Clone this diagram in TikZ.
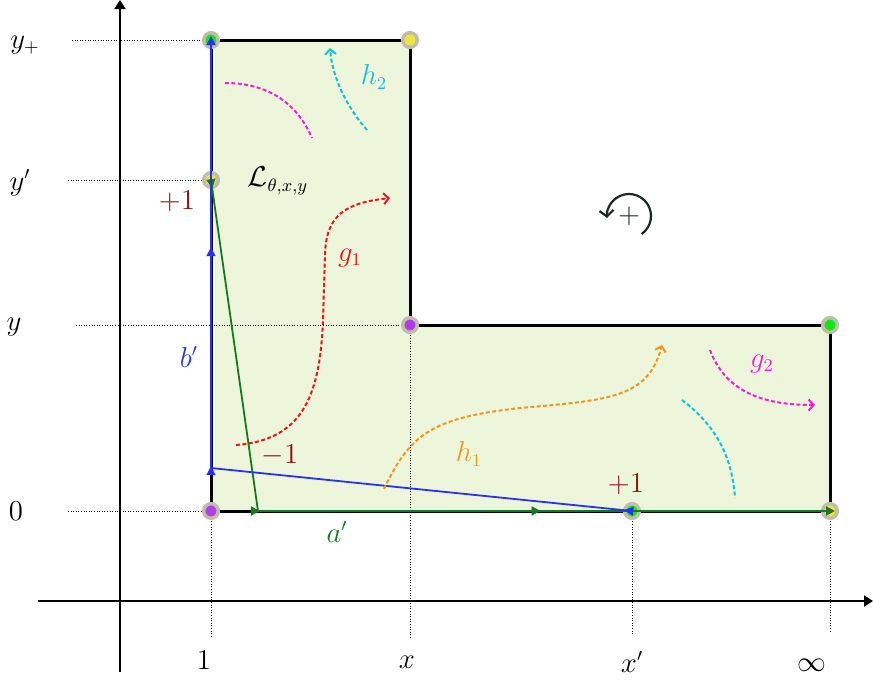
\documentclass[tikz,border=0pt]{standalone}
\usetikzlibrary{arrows.meta,decorations.markings}
\definecolor{regfill}{RGB}{237,246,218}
\definecolor{ptgreen}{RGB}{20,230,20}
\definecolor{ptyellow}{RGB}{240,228,60}
\definecolor{ptpurple}{RGB}{178,60,235}
\definecolor{ringc}{RGB}{190,190,170}
\definecolor{bluel}{RGB}{40,50,240}
\definecolor{greenl}{RGB}{20,120,40}
\definecolor{darkred}{RGB}{140,20,20}
\definecolor{cred}{RGB}{240,20,20}
\definecolor{corange}{RGB}{240,150,30}
\definecolor{ccyan}{RGB}{20,190,220}
\definecolor{cmag}{RGB}{240,30,220}
\definecolor{arcc}{RGB}{25,40,40}
\tikzset{
  pt/.style={circle,inner sep=0pt,minimum size=7.3pt,draw=ringc,line width=1.75pt},
  guide/.style={line width=0.5pt,dash pattern=on 0.5pt off 0.8pt},
  axis/.style={line width=1pt,-{Triangle[length=4.5pt,width=5.5pt]}},
  border/.style={line width=1.5pt},
  flow/.style={line width=1pt,dash pattern=on 2pt off 1.2pt,-{Straight Barb[length=2.5pt,width=5.5pt]}},
  flowplain/.style={line width=1pt,dash pattern=on 2pt off 1.2pt},
  tri/.tip={Triangle[length=4.5pt,width=4.5pt]},
  lbl/.style={inner sep=0pt,font=\fontsize{13.5}{16}\selectfont}
}
\begin{document}
\begin{tikzpicture}[x=0.5pt,y=-0.5pt]
\useasboundingbox (0,0) rectangle (873,681);
% coordinates
\coordinate (O) at (211,511);
\coordinate (Xinf) at (830,511);
\coordinate (Yinf) at (830,325);
\coordinate (XY) at (410,325);
\coordinate (XYp) at (410,40);
\coordinate (Yp) at (211,40);
% region
\fill[regfill] (O) -- (Xinf) -- (Yinf) -- (XY) -- (XYp) -- (Yp) -- cycle;
% axes
\coordinate (ya0) at (120,672);
\coordinate (ya1) at (120,0);
\coordinate (xa0) at (38,601);
\coordinate (xa1) at (873,601);
\draw[axis] (ya0) -- (ya1);
\draw[axis] (xa0) -- (xa1);
% guides
\coordinate (g1a) at (72,40);
\coordinate (g2a) at (68,180);
\coordinate (g3a) at (76,325);
\coordinate (g4a) at (68,511);
\coordinate (Ypr) at (211,180);
\coordinate (Xpr) at (632,511);
\coordinate (v1) at (211,638);
\coordinate (v2) at (410,638);
\coordinate (v3) at (632,634);
\coordinate (v4) at (830,631);
\draw[guide] (g1a) -- (Yp);
\draw[guide] (g2a) -- (Ypr);
\draw[guide] (g3a) -- (XY);
\draw[guide] (g4a) -- (O);
\draw[guide] (O) -- (v1);
\draw[guide] (XY) -- (v2);
\draw[guide] (Xpr) -- (v3);
\draw[guide] (Xinf) -- (v4);
% border
\draw[border,line join=miter] (O) -- (Xinf) -- (Yinf) -- (XY) -- (XYp) -- (Yp) -- cycle;
% points
\node[pt,fill=ptgreen] (PYp) at (Yp) {};
\node[pt,fill=ptyellow] (PXYp) at (XYp) {};
\node[pt,fill=ptyellow] (PYpr) at (Ypr) {};
\node[pt,fill=ptpurple] (PXY) at (XY) {};
\node[pt,fill=ptgreen] (PYinf) at (Yinf) {};
\node[pt,fill=ptpurple] (PO) at (O) {};
\node[pt,fill=ptgreen] (PXpr) at (Xpr) {};
\node[pt,fill=ptyellow] (PXinf) at (Xinf) {};
% green path a'
\coordinate (G) at (258,511);
\coordinate (Gend) at (835,511);
\draw[greenl,line width=0.9pt,-{tri},
  postaction={decorate},
  decoration={markings,
    mark=at position 0.009 with {\arrow{tri}},
    mark=at position 0.369 with {\arrow{tri}},
    mark=at position 0.677 with {\arrow{tri}}}]
  (PYpr.center) -- (G) -- (Gend);
% blue path b'
\coordinate (B) at (211,468);
\coordinate (Bend) at (211,36);
\draw[bluel,line width=0.9pt,-{tri},
  postaction={decorate},
  decoration={markings,
    mark=at position 0.009 with {\arrow{tri}},
    mark=at position 0.497 with {\arrow{tri}},
    mark=at position 0.753 with {\arrow{tri}}}]
  (PXpr.center) -- (B) -- (Bend);
% dashed flows
\coordinate (m1a) at (225,83);
\coordinate (m1b) at (312,138);
\draw[flowplain,cmag] (m1a) .. controls (275,83) and (300,110) .. (m1b);
\coordinate (c1a) at (367,130);
\coordinate (c1b) at (330,48);
\draw[flow,ccyan] (c1a) .. controls (345,105) and (332,75) .. (c1b);
\coordinate (r1a) at (236,445);
\coordinate (r1m) at (323,320);
\coordinate (r1n) at (325,255);
\coordinate (r1b) at (390,198);
\draw[flow,cred] (r1a) .. controls (300,440) and (320,400) .. (r1m) -- (r1n) .. controls (326,215) and (345,203) .. (r1b);
\coordinate (o1a) at (384,489);
\coordinate (o1m) at (520,408);
\coordinate (o1b) at (662,345);
\draw[flow,corange] (o1a) .. controls (410,435) and (430,418) .. (o1m) .. controls (610,400) and (648,398) .. (o1b);
\coordinate (c2a) at (682,400);
\coordinate (c2b) at (735,498);
\draw[flowplain,ccyan] (c2a) .. controls (715,425) and (732,455) .. (c2b);
\coordinate (m2a) at (710,350);
\coordinate (m2b) at (815,405);
\draw[flow,cmag] (m2a) .. controls (725,390) and (760,405) .. (m2b);
% orientation
\coordinate (orc) at (629,216);
\draw[arcc,line width=1.1pt,-{Straight Barb[length=3pt,width=7pt]}] ([shift={(-55:11pt)}]orc) arc[start angle=-55,end angle=185,radius=11pt];
\node[lbl,arcc] (plus) at (orc) {$+$};
% axis labels
\node[lbl] (lyp) at (25,45) {$y_+$};
\node[lbl] (lypr) at (20,183) {$y'$};
\node[lbl] (ly) at (14,327) {$y$};
\node[lbl] (l0) at (16,511) {$0$};
\node[lbl] (l1) at (204,660) {$1$};
\node[lbl] (lx) at (407,662) {$x$};
\node[lbl] (lxp) at (632,662) {$x'$};
\node[lbl] (linf) at (812,665) {$\infty$};
% other labels
\node[lbl] (lL) at (278,181) {$\mathcal{L}_{\theta,x,y}$};
\node[lbl,darkred] (lp1) at (177,201) {$+1$};
\node[lbl,darkred] (lm1) at (280,455) {$-1$};
\node[lbl,darkred] (lp2) at (626,484) {$+1$};
\node[lbl,greenl] (la) at (337,532) {$a'$};
\node[lbl,bluel] (lb) at (189,357) {$b'$};
\node[lbl,cred] (lg1) at (350,258) {$g_1$};
\node[lbl,corange] (lh1) at (469,454) {$h_1$};
\node[lbl,ccyan] (lh2) at (374,77) {$h_2$};
\node[lbl,cmag] (lg2) at (762,364) {$g_2$};
\end{tikzpicture}
\end{document}
